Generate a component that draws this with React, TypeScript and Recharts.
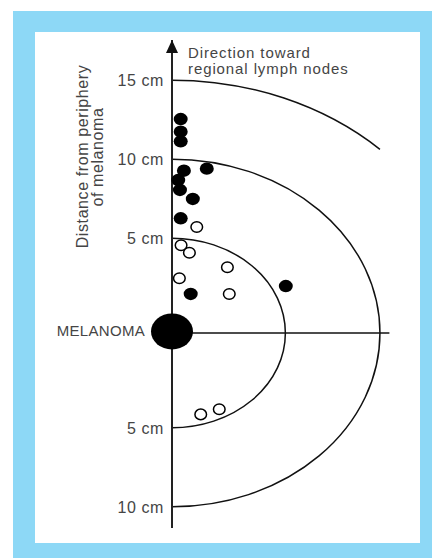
import React from "react";
import { ScatterChart, Scatter, XAxis, YAxis, ReferenceArea, ReferenceLine, ReferenceDot } from "recharts";

// Plot coordinates: y = distance from melanoma periphery + melanoma radius (1 unit), negative = opposite direction
const filledX = [0.46, 0.46, 0.46, 0.63, 1.84, 0.33, 0.42, 1.1, 0.46, 0.99, 6.02];
const filledY = [13.54, 12.74, 12.13, 10.27, 10.4, 9.68, 9.05, 8.48, 7.26, 2.47, 2.97];
const openX = [1.31, 0.48, 0.92, 2.93, 0.39, 3.03, 1.52, 2.5];
const openY = [6.71, 5.55, 5.08, 4.16, 3.46, 2.47, -5.15, -4.83];
const melanoma = [{ x: 0, y: 0.1 }];

const ringRadii = [6, 11, 16]; // 5, 10, 15 cm rings (plus melanoma radius)
const ringEndX = [6, 11, 11]; // how far right each ring is drawn
const tickValues = [16, 11, 6, 0, -6, -11];
const tickLabels = ["15 cm", "10 cm", "5 cm", "MELANOMA", "5 cm", "10 cm"];

const X_DOMAIN: [number, number] = [0, 11.5];
const Y_DOMAIN: [number, number] = [-12.34, 18.54];

const filled = filledX.map((x, i) => ({ x, y: filledY[i] }));
const open = openX.map((x, i) => ({ x, y: openY[i] }));

const FONT = "'Liberation Sans', Arial, Helvetica, sans-serif";
const TEXT = "#454545";

const makeRing = (frac: number) => (props: any) => {
  const { x, y, width, height } = props;
  const cx = x;
  const cy = y + height / 2;
  const rx = width;
  const ry = height / 2;
  let ex = cx;
  let ey = cy + ry;
  if (frac < 1) {
    ex = cx + rx * frac;
    ey = cy - ry * Math.sqrt(1 - frac * frac);
  }
  return (
    <path
      d={`M ${cx} ${cy - ry} A ${rx} ${ry} 0 0 1 ${ex} ${ey}`}
      fill="none"
      stroke="#111"
      strokeWidth={1.5}
    />
  );
};

const FilledDot = (p: any) => <ellipse cx={p.cx} cy={p.cy} rx={7} ry={6.2} fill="#000" />;
const OpenDot = (p: any) => (
  <ellipse cx={p.cx} cy={p.cy} rx={5.8} ry={5.3} fill="#fff" stroke="#000" strokeWidth={1.5} />
);
const MelanomaDot = (p: any) => <ellipse cx={p.cx} cy={p.cy} rx={21} ry={18} fill="#000" />;

const Arrow = (p: any) => (
  <path d={`M ${p.cx} ${p.cy} L ${p.cx - 6} ${p.cy + 13} L ${p.cx + 6} ${p.cy + 13} Z`} fill="#111" />
);

const Tick = (p: any) => {
  const idx = tickValues.indexOf(p.payload.value);
  const label = tickLabels[idx];
  const isM = label === "MELANOMA";
  return (
    <text
      x={p.x + (isM ? -19 : 0)}
      y={p.y + (isM ? -2 : 0)}
      dy="0.36em"
      textAnchor="end"
      fill={TEXT}
      fontSize={isM ? 15 : 16}
      fontFamily={FONT}
      letterSpacing={isM ? 0.3 : 0.6}
    >
      {label}
    </text>
  );
};

const AxisTitle = () => (
  <g fill={TEXT} fontFamily={FONT}>
    <g fontSize={16} letterSpacing={0.6}>
      <text x={88} y={156.5} textAnchor="middle" transform="rotate(-90 88 156.5)">
        Distance from periphery
      </text>
      <text x={103} y={157} textAnchor="middle" transform="rotate(-90 103 157)">
        of melanoma
      </text>
    </g>
    <g fontSize={15} letterSpacing={0.9}>
      <text x={188} y={58}>Direction toward</text>
      <text x={188} y={73.5}>regional lymph nodes</text>
    </g>
  </g>
);

export default function App() {
  return (
    <div style={{ position: "absolute", left: 0, top: 0, width: 432, height: 558, background: "#fff" }}>
      <div style={{ position: "absolute", left: 13, top: 11, width: 419, height: 547, background: "#8dd8f6" }} />
      <div style={{ position: "absolute", left: 35, top: 32, width: 385, height: 511, background: "#fff" }} />
      <div style={{ position: "absolute", left: 0, top: 0 }}>
        <ScatterChart width={432} height={558} margin={{ top: 40, right: 42.6, bottom: 30, left: 0 }}>
          <XAxis type="number" dataKey="x" domain={X_DOMAIN} hide />
          <YAxis
            type="number"
            dataKey="y"
            domain={Y_DOMAIN}
            width={172}
            ticks={tickValues}
            interval={0}
            tickLine={false}
            tickSize={0}
            tickMargin={8}
            tick={<Tick />}
            axisLine={{ stroke: "#222", strokeWidth: 2 }}
            label={<AxisTitle />}
          />
          {ringRadii.map((r, i) => (
            <ReferenceArea
              key={r}
              x1={0}
              x2={r}
              y1={-r}
              y2={r}
              ifOverflow="visible"
              shape={makeRing(ringEndX[i] / r)}
            />
          ))}
          <ReferenceLine y={0} stroke="#111" strokeWidth={1.5} />
          <ReferenceDot x={0} y={Y_DOMAIN[1]} ifOverflow="visible" shape={<Arrow />} />
          <Scatter data={melanoma} shape={<MelanomaDot />} isAnimationActive={false} />
          <Scatter data={open} shape={<OpenDot />} isAnimationActive={false} />
          <Scatter data={filled} shape={<FilledDot />} isAnimationActive={false} />
        </ScatterChart>
      </div>
    </div>
  );
}
